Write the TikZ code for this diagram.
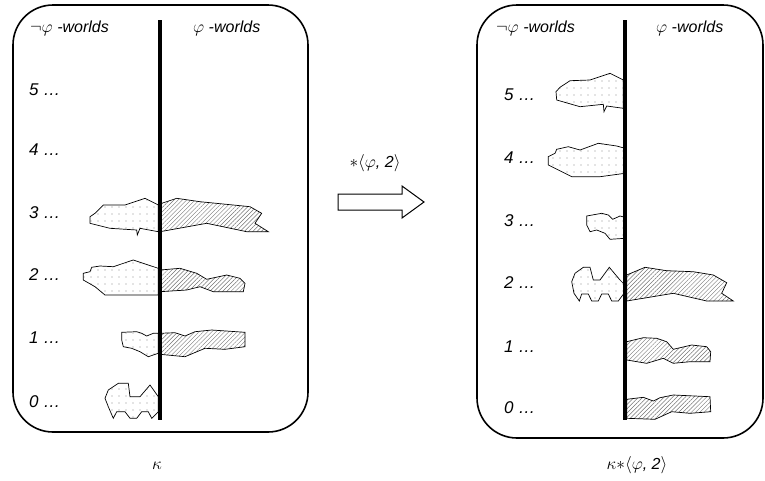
\documentclass[tikz,border=0pt]{standalone}
\usepackage{fontspec}
\setmainfont{Liberation Sans}
\usetikzlibrary{patterns.meta}
\begin{document}
\begin{tikzpicture}[x=1pt,y=-1pt,
  boxframe/.style={line width=1.6pt, rounded corners=40pt},
  divider/.style={line width=3.5pt},
  dotblob/.style={draw=black, line width=0.7pt, pattern={Dots[distance=7pt,radius=0.6pt]}, pattern color=black!45},
  hatchblob/.style={draw=black, line width=0.7pt, pattern={Lines[angle=45,distance=3pt,line width=0.45pt]}, pattern color=black!55},
  lbl/.style={inner sep=0pt, anchor=west, font=\fontsize{16}{19}\selectfont\itshape},
  rowlbl/.style={inner sep=0pt, anchor=west, font=\fontsize{17}{20}\selectfont\itshape},
  captxt/.style={inner sep=0pt, font=\fontsize{16}{19}\selectfont\itshape}]
\useasboundingbox (0,0) rectangle (765,480);

% boxes
\draw[boxframe] (13,5) rectangle (308,432);
\draw[boxframe] (477,5) rectangle (763,438);

% left blobs
\draw[dotblob] (158.3,205) -- (145,198.3) -- (125,205) -- (103.3,205) -- (95,213.3) -- (90,216.7) -- (90,223.3) -- (110,228.3) -- (136.7,230) -- (137.3,235) -- (140,228.3) -- (158.3,231.7) -- cycle;
\draw[hatchblob] (161.7,203.3) -- (176.7,198.3) -- (200,201.7) -- (233.3,205) -- (250,206.7) -- (261.7,213.3) -- (255,223.3) -- (268.3,231.7) -- (246.7,231.7) -- (206.7,223.3) -- (160,231.7) -- cycle;
\draw[dotblob] (158.3,268.3) -- (133.3,260) -- (113.3,266.7) -- (100,266) -- (91.7,267.3) -- (90,271.7) -- (83.3,273.3) -- (83.3,280) -- (95,286.7) -- (105,295) -- (158.3,295) -- cycle;
\draw[hatchblob] (160,270) -- (180,268.3) -- (196.7,273.3) -- (206.7,279.3) -- (226.7,275) -- (240,278.3) -- (245,283.3) -- (243.3,291.7) -- (213.3,291.7) -- (200,286.7) -- (186.7,290) -- (160,291.7) -- cycle;
\draw[dotblob] (121.7,332.3) -- (136.7,331.7) -- (141.7,333.3) -- (146.7,336) -- (153.3,333.3) -- (158.3,333.3) -- (158.3,353.3) -- (148.3,356.7) -- (140,351.7) -- (131.7,348.3) -- (123.3,346.7) -- (121.7,340) -- cycle;
\draw[hatchblob] (160,333.3) -- (175,332.7) -- (185,336) -- (195,331.7) -- (211.7,330) -- (245,332.3) -- (245,346.7) -- (225,349.3) -- (205,348.3) -- (185,356.7) -- (160,354.3) -- cycle;
\draw[dotblob] (158.3,396.7) -- (150,385) -- (140,396.7) -- (130,396.7) -- (128.3,383.3) -- (118.3,383.3) -- (108.3,390) -- (105,398.3) -- (108.3,406.7) -- (113.3,418.3) -- (116.7,411.7) -- (125,411.7) -- (130,418.3) -- (136.7,418.3) -- (141.7,411.7) -- (148.3,411.7) -- (151.7,418.3) -- (158.3,411.7) -- cycle;

% right blobs
\draw[dotblob] (623.3,80) -- (610,73.3) -- (590,80) -- (570,80.7) -- (560,87.3) -- (556,91.7) -- (556.7,100) -- (580,106.7) -- (603.3,104.3) -- (604,111.7) -- (606.7,106) -- (623.3,108.3) -- cycle;
\draw[dotblob] (625,148.3) -- (616.7,146) -- (598.3,143.3) -- (580,150) -- (568.3,146.7) -- (556.7,149.3) -- (555,153.3) -- (548.3,156.7) -- (548.3,165) -- (571.7,176.7) -- (600,176.7) -- (625,173.3) -- cycle;
\draw[dotblob] (625,217.3) -- (620,216) -- (612.7,219.3) -- (608.3,215) -- (601.7,213.3) -- (586.7,216) -- (586.7,225) -- (590,231.7) -- (596.7,230) -- (605,233.3) -- (610,239.3) -- (625,238.3) -- cycle;
\draw[dotblob] (625,285) -- (620,280) -- (609.3,267.3) -- (600,280) -- (593.3,280) -- (590,267.3) -- (583.3,267.3) -- (575,273.3) -- (571.7,281.7) -- (574,293.3) -- (579.3,301) -- (581.7,294) -- (588.3,294) -- (591.7,301) -- (598.3,301) -- (601.7,294) -- (608.3,294) -- (611.7,301) -- (618.3,301) -- (625,292) -- cycle;
\draw[hatchblob] (626.7,275) -- (645,267.3) -- (666.7,270.7) -- (693.3,271.7) -- (713.3,275) -- (726.7,282.7) -- (721.7,293.3) -- (733.3,301) -- (706.7,301) -- (673.3,293.3) -- (626.7,301) -- cycle;
\draw[hatchblob] (626.7,341.7) -- (643.3,337.7) -- (656.7,338.3) -- (666.7,341.7) -- (673.3,349.3) -- (691.7,345) -- (706.7,346.7) -- (710.7,351.7) -- (710,361.7) -- (690,361.7) -- (673.3,363.3) -- (663.3,358.3) -- (646.7,363.3) -- (626.7,360) -- cycle;
\draw[hatchblob] (626.7,399.3) -- (643.3,397.3) -- (653.3,401) -- (660,397.7) -- (673.3,395) -- (710,396.7) -- (710.7,411.7) -- (690,413.3) -- (671.7,411.7) -- (655,419.3) -- (626.7,418.3) -- cycle;

% dividers
\draw[divider] (160,20) -- (160,420);
\draw[divider] (625,20) -- (625,420);

% headers
\node[lbl] (lneg) at (30,28) {$\neg\varphi$ -worlds};
\node[lbl] (lpos) at (193,28) {$\varphi$ -worlds};
\node[lbl] (rneg) at (496,28) {$\neg\varphi$ -worlds};
\node[lbl] (rpos) at (656,28) {$\varphi$ -worlds};

% row labels left
\node[rowlbl] (l5) at (29,90) {5 …};
\node[rowlbl] (l4) at (29,150) {4 …};
\node[rowlbl] (l3) at (29,213) {3 …};
\node[rowlbl] (l2) at (29,275) {2 …};
\node[rowlbl] (l1) at (29,338) {1 …};
\node[rowlbl] (l0) at (29,402) {0 …};
% row labels right
\node[rowlbl] (r5) at (504,95) {5 …};
\node[rowlbl] (r4) at (504,158) {4 …};
\node[rowlbl] (r3) at (504,221) {3 …};
\node[rowlbl] (r2) at (504,283) {2 …};
\node[rowlbl] (r1) at (504,347) {1 …};
\node[rowlbl] (r0) at (504,408) {0 …};

% arrow
\draw[line width=1pt, line join=miter] (338,194) -- (402,194) -- (402,186) -- (424,202) -- (402,218) -- (402,210) -- (338,210) -- cycle;
\node[captxt] (op) at (375,163) {$*\langle\varphi$, 2$\rangle$};

% captions
\node[captxt] (kl) at (157,466) {$\kappa$};
\node[captxt] (kr) at (637,465) {$\kappa{*}\langle\varphi$, 2$\rangle$};
\end{tikzpicture}
\end{document}
